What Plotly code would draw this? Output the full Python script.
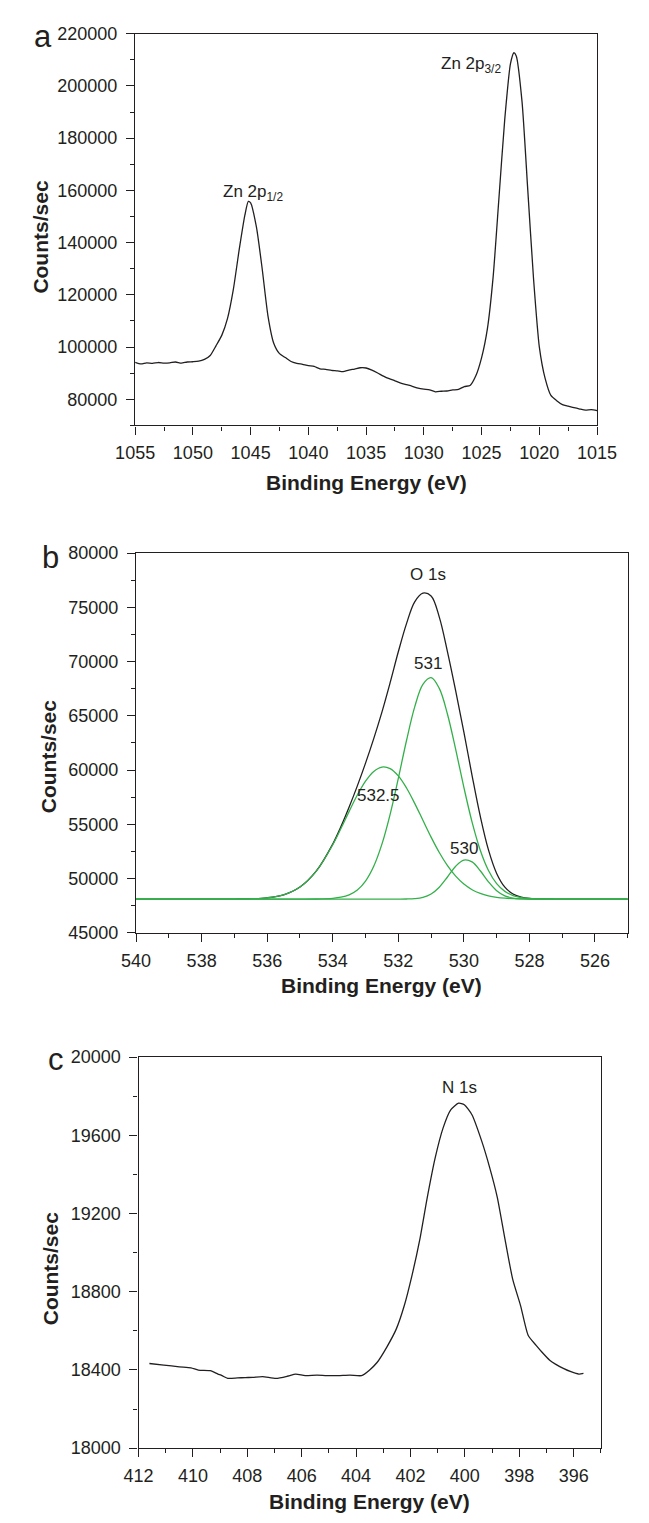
import plotly.graph_objects as go

# ---------------- data ----------------
# (a) Zn 2p region
zn_be = [1055.0, 1054.5, 1054.0, 1053.5, 1053.0, 1052.5, 1052.0, 1051.5, 1051.0, 1050.5,
         1050.0, 1049.5, 1049.0, 1048.5, 1048.0, 1047.5, 1047.0, 1046.5, 1046.0, 1045.5,
         1045.2, 1045.0, 1044.5, 1044.0, 1043.5, 1043.0, 1042.5, 1042.0, 1041.5, 1041.0,
         1040.5, 1040.0, 1039.5, 1039.0, 1038.5, 1038.0, 1037.5, 1037.0, 1036.5, 1036.0,
         1035.5, 1035.0, 1034.5, 1034.0, 1033.5, 1033.0, 1032.5, 1032.0, 1031.5, 1031.0,
         1030.5, 1030.0, 1029.5, 1029.0, 1028.5, 1028.0, 1027.5, 1027.0, 1026.5, 1026.0,
         1025.5, 1025.0, 1024.5, 1024.0, 1023.5, 1023.0, 1022.5, 1022.2, 1022.0, 1021.5,
         1021.0, 1020.5, 1020.0, 1019.5, 1019.0, 1018.5, 1018.0, 1017.5, 1017.0, 1016.5,
         1016.0, 1015.5, 1015.0]
zn_counts = [94200, 93600, 94000, 93800, 94100, 93900, 94000, 94300, 93900, 94300,
             94400, 94600, 95300, 96800, 100500, 104500, 111000, 122000, 137000, 150500,
             155800, 155200, 146000, 130000, 112000, 101500, 97500, 96000, 94500, 93800,
             93400, 92900, 92600, 91700, 91500, 91100, 90900, 90600, 91200, 91600,
             92100, 92000, 91200, 90100, 88900, 87900, 87100, 86200, 85600, 85000,
             84300, 83900, 83600, 82900, 83100, 83200, 83600, 83800, 84900, 85300,
             89000, 96000, 107000, 127000, 157000, 187000, 208500, 212700, 211500, 194000,
             160000, 126000, 100000, 88000, 81500, 79500, 78000, 77400, 76800, 76300,
             75900, 76100, 75700]

# (b) O 1s region: envelope and three fitted components
o_be = [540.0, 538.0, 537.0, 536.5, 536.0, 535.5, 535.0, 534.5, 534.0, 533.75,
        533.5, 533.25, 533.0, 532.75, 532.5, 532.25, 532.0, 531.75, 531.5, 531.25,
        531.0, 530.75, 530.5, 530.25, 530.0, 529.75, 529.5, 529.25, 529.0, 528.75,
        528.5, 528.25, 528.0, 527.5, 527.0, 526.0, 525.0]
o_envelope = [48100, 48100, 48106, 48130, 48219, 48499, 49213, 50696, 53179, 54782,
              56584, 58540, 60638, 62897, 65338, 68050, 70900, 73500, 75500, 76300,
              76050, 74100, 70900, 67300, 63500, 59492, 55740, 52633, 50469, 49202,
              48565, 48283, 48168, 48107, 48100, 48100, 48100]
o_peak_5325 = [48100, 48100, 48106, 48130, 48219, 48499, 49213, 50687, 53110, 54610,
               56186, 57692, 58971, 59870, 60274, 60130, 59457, 58345, 56928, 55368,
               53816, 52395, 51183, 50215, 49485, 48967, 48618, 48396, 48262, 48184,
               48142, 48120, 48109, 48102, 48100, 48100, 48100]
o_peak_531 = [48100, 48100, 48100, 48100, 48100, 48100, 48100, 48109, 48169, 48272,
              48498, 48948, 49767, 51127, 53164, 55917, 59231, 62722, 65819, 67906,
              68523, 67527, 65145, 61898, 58401, 55195, 52608, 50742, 49528, 48813,
              48428, 48239, 48154, 48107, 48100, 48100, 48100]
o_peak_530 = [48100, 48100, 48100, 48100, 48100, 48100, 48100, 48100, 48100, 48100,
              48100, 48100, 48100, 48100, 48100, 48100, 48102, 48110, 48145, 48263,
              48573, 49198, 50138, 51128, 51701, 51530, 50714, 49695, 48879, 48405,
              48195, 48124, 48105, 48100, 48100, 48100, 48100]

# (c) N 1s region
n_be = [411.6, 411.07, 410.5, 410.07, 409.8, 409.36, 409.08, 408.93, 408.72, 408.36,
        408.08, 407.8, 407.44, 406.94, 406.5, 406.22, 405.87, 405.44, 405.08, 404.66,
        404.23, 403.8, 403.51, 403.23, 402.87, 402.52, 402.23, 401.95, 401.66, 401.38,
        401.09, 400.8, 400.52, 400.23, 400.02, 399.74, 399.38, 399.09, 398.81, 398.52,
        398.24, 397.95, 397.67, 397.38, 397.17, 396.88, 396.67, 396.38, 396.1, 395.81,
        395.64]
n_counts = [18433, 18425, 18416, 18411, 18399, 18396, 18379, 18371, 18357, 18359,
            18361, 18362, 18366, 18357, 18369, 18379, 18371, 18374, 18371, 18371,
            18374, 18371, 18399, 18438, 18517, 18610, 18728, 18880, 19065, 19284,
            19486, 19638, 19730, 19764, 19756, 19705, 19570, 19436, 19284, 19065,
            18863, 18728, 18576, 18526, 18492, 18450, 18430, 18408, 18391, 18379,
            18382]

# ---------------- styling ----------------
W, H = 649, 1523
INK = "#231f20"
GREEN = "#33b04a"
FONT = "Liberation Sans, Arial, sans-serif"


def px(x):
    return x / W


def py(y):
    return 1 - y / H


fig = go.Figure()

fig.add_trace(go.Scatter(x=zn_be, y=zn_counts, mode="lines",
                         line=dict(color=INK, width=1.3, shape="spline", smoothing=0.6),
                         xaxis="x", yaxis="y", showlegend=False))

fig.add_trace(go.Scatter(x=o_be, y=o_envelope, mode="lines",
                         line=dict(color=INK, width=1.3, shape="spline"),
                         xaxis="x2", yaxis="y2", showlegend=False))
for comp in (o_peak_5325, o_peak_531, o_peak_530):
    fig.add_trace(go.Scatter(x=o_be, y=comp, mode="lines",
                             line=dict(color=GREEN, width=1.3, shape="spline"),
                             xaxis="x2", yaxis="y2", showlegend=False))

fig.add_trace(go.Scatter(x=n_be, y=n_counts, mode="lines",
                         line=dict(color=INK, width=1.3, shape="spline", smoothing=0.6),
                         xaxis="x3", yaxis="y3", showlegend=False))


def axis(domain, rng, dtick, minor_dtick, anchor, standoff):
    return dict(
        domain=domain, range=rng, dtick=dtick, tick0=0, anchor=anchor,
        showline=True, linecolor=INK, linewidth=1.4, mirror=True,
        ticks="outside", ticklen=8, tickwidth=1.3, tickcolor=INK,
        ticklabelstandoff=standoff,
        minor=dict(dtick=minor_dtick, ticks="outside", ticklen=4,
                   tickwidth=1.2, tickcolor=INK),
        showgrid=False, zeroline=False, tickformat="d",
        tickfont=dict(family=FONT, size=18, color=INK),
        fixedrange=True,
    )


# pixel boxes of the three panels
box_a = (122.7, 615.0, 24.0, 421.0)
box_b = (123.7, 647.7, 550.3, 935.0)
box_c = (126.3, 619.0, 1061.0, 1457.3)


def dom_x(b):
    return [px(b[0]), px(b[1])]


def dom_y(b):
    return [py(b[3]), py(b[2])]


layout = dict(
    width=W, height=H, margin=dict(l=0, r=0, t=0, b=0),
    paper_bgcolor="white", plot_bgcolor="white", showlegend=False,
    xaxis=axis(dom_x(box_a), [1055, 1015], 5, 2.5, "y", 3),
    yaxis=axis(dom_y(box_a), [70000, 220000], 20000, 10000, "x", 5),
    xaxis2=axis(dom_x(box_b), [540, 525], 2, 1, "y2", 3),
    yaxis2=axis(dom_y(box_b), [45000, 80000], 5000, 2500, "x2", 5),
    xaxis3=axis(dom_x(box_c), [412, 395], 2, 1, "y3", 3),
    yaxis3=axis(dom_y(box_c), [18000, 20000], 400, 200, "x3", 5),
)
fig.update_layout(**layout)

ann = []


def label(text, x, y, size, bold=False, angle=0):
    ann.append(dict(text=f"<b>{text}</b>" if bold else text,
                    x=px(x), y=py(y), xref="paper", yref="paper",
                    showarrow=False, xanchor="center", yanchor="middle",
                    textangle=angle,
                    font=dict(family=FONT, size=size, color=INK)))


def data_label(text, x, y, xr, yr):
    ann.append(dict(text=text, x=x, y=y, xref=xr, yref=yr, showarrow=False,
                    xanchor="center", yanchor="middle",
                    font=dict(family=FONT, size=17, color=INK)))


# panel letters
label("a", 24, 27, 31)
label("b", 33, 555, 31)
label("c", 38, 1063, 31)

# axis titles
for cx, ty in ((368.9, 479), (385.7, 988), (372.7, 1511)):
    label("Binding Energy (eV)", cx, ty, 21, bold=True)
for tx, cy in ((22, 230), (30, 756), (32, 1275)):
    label("Counts/sec", tx, cy, 21, bold=True, angle=-90)

# peak labels
data_label("Zn 2p<sub>1/2</sub>", 1044.8, 159000, "x", "y")
data_label("Zn 2p<sub>3/2</sub>", 1025.9, 208000, "x", "y")
data_label("O 1s", 531.1, 78050, "x2", "y2")
data_label("531", 531.1, 69860, "x2", "y2")
data_label("532.5", 532.6, 57640, "x2", "y2")
data_label("530", 530.0, 52770, "x2", "y2")
data_label("N 1s", 400.2, 19845, "x3", "y3")

fig.update_layout(annotations=ann)
fig.write_html("out.html")
